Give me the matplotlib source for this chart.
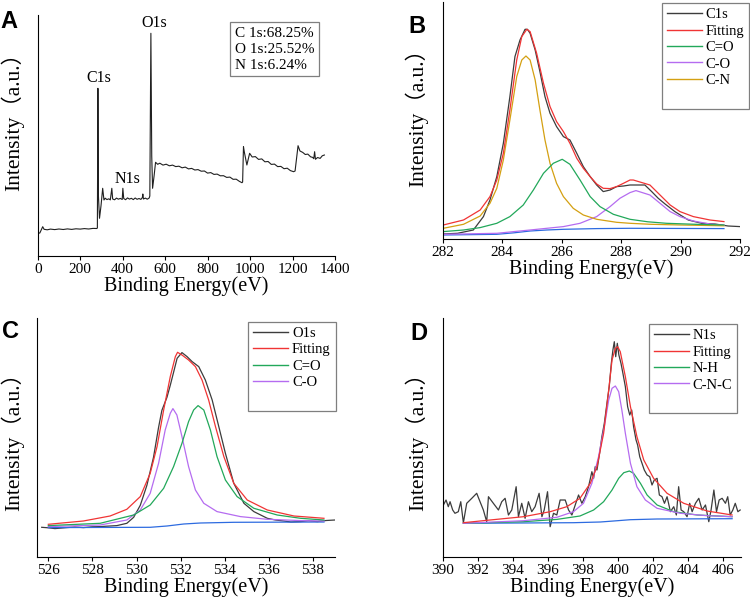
import matplotlib

matplotlib.use("Agg")
import matplotlib.pyplot as plt
from matplotlib.lines import Line2D

plt.rcParams["font.family"] = ["Liberation Serif", "DejaVu Serif"]
plt.rcParams["axes.linewidth"] = 0.8

# ---- colours ----
RAW = "#3c3c3c"
FIT = "#f03434"
GREEN = "#22a85a"
PURPLE = "#b56cf0"
ORANGE = "#d4a012"
BLUE = "#2d6be0"

# ---- A: survey spectrum ----
survey_ev = [0, 10, 23.6, 30, 45, 60, 80, 100, 120, 140,
             160, 180, 200, 220, 240, 260, 278, 281, 283.5, 286,
             291, 298, 306, 312, 318, 326, 335, 342, 349, 353,
             362, 371, 380, 389, 398, 401, 405, 414, 423, 432,
             441, 450, 459, 468, 477, 486, 493, 495, 498, 507,
             516, 525, 528, 533, 537, 541, 548, 555, 565, 575,
             590, 605, 620, 635, 650, 665, 680, 695, 710, 725,
             740, 755, 770, 785, 800, 815, 830, 845, 860, 875,
             890, 905, 920, 935, 950, 962, 965, 969, 973, 985,
             998, 1010, 1025, 1040, 1055, 1070, 1085, 1100, 1115, 1130,
             1145, 1160, 1175, 1190, 1205, 1212, 1226, 1235, 1248, 1260,
             1272, 1285, 1295, 1300, 1304, 1308, 1318, 1330, 1340, 1350]
survey_int = [22.7, 23, 29.3, 26.7, 26.2, 26.9, 26.4, 27, 26.5, 27.1,
              26.6, 27.2, 26.9, 27.4, 27.0, 27.6, 27.5, 28, 167.7, 60,
              37.7, 50, 67.7, 56, 57.8, 56.4, 57.2, 56.1, 67.7, 57,
              56.2, 57.9, 56.8, 57.6, 56.5, 67.7, 57.5, 56.3, 58.1, 56.9,
              57.7, 56.4, 58, 56.7, 57.5, 56.6, 58.5, 62, 57, 57.9,
              56.8, 58, 60, 222.7, 100, 67.7, 80, 93.7, 91.7, 92.8,
              90.9, 91.8, 90.2, 90.9, 89.4, 89.8, 88.2, 88.9, 87.1, 87.6,
              86.0, 86.4, 84.8, 85.0, 82.9, 83.4, 81.6, 81.9, 80.2, 80.3,
              78.6, 78.9, 76.7, 76.8, 74.6, 73.3, 74, 109.3, 104, 91,
              102.7, 99, 99.4, 96.6, 97.1, 94.2, 94.5, 91.6, 91.9, 89.4,
              89.6, 87.3, 87.8, 85.4, 84.3, 85, 110.3, 105, 103.6, 101.5,
              101.9, 99.2, 98.6, 97.3, 104.3, 96.7, 98.5, 97.6, 100.2, 101]
survey_peaks = ["C1s", "N1s", "O1s"]
survey_peak_pos = [(290, 170), (424, 69), (548, 225)]
survey_ratio = ["C 1s:68.25%", "O 1s:25.52%", "N 1s:6.24%"]

# ---- B: C1s ----
c1s_raw_ev = [282.0, 282.5, 283.03, 283.37, 283.59, 283.82, 284.04, 284.26, 284.43, 284.6,
              284.77, 284.85, 284.94, 285.11, 285.27, 285.44, 285.61, 285.83, 286.06, 286.28,
              286.51, 286.73, 286.96, 287.18, 287.4, 287.63, 287.85, 288.08, 288.3, 288.8,
              289.03, 289.25, 289.48, 289.81, 290.26, 290.71, 291.16, 291.6, 292.0]
c1s_raw = [5.3, 6.0, 9.3, 22.7, 39.3, 62.7, 96, 142.7, 182.7, 199.3,
           210, 210, 206, 189.3, 167.7, 142.7, 126, 112.7, 102.7, 99.3,
           86, 72.7, 62.7, 54.3, 47.7, 49.3, 52.7, 53.3, 54.3, 54.3,
           47.7, 41, 35.3, 27.7, 19.3, 16, 15.3, 13.3, 12.7]
c1s_fit_ev = [282.02, 282.7, 283.26, 283.59, 283.82, 284.04, 284.26, 284.49, 284.66, 284.83,
              284.94, 285.16, 285.39, 285.61, 285.83, 286.06, 286.28, 286.51, 286.73, 286.96,
              287.18, 287.4, 287.63, 287.85, 288.08, 288.3, 288.41, 288.97, 289.31, 289.65,
              289.98, 290.43, 290.99, 291.46]
c1s_fit = [14.3, 19.3, 29.3, 42.7, 59.3, 86, 129.3, 179.3, 202.7, 210,
           207.7, 186, 156, 132.7, 117.7, 107.7, 96, 81, 71, 62.7,
           55.3, 51, 50.7, 52.7, 56, 59.3, 59.3, 54.3, 44.3, 34.3,
           27.7, 22.7, 19.3, 17.7]
c1s_cn_ev = [282.02, 282.7, 283.26, 283.59, 283.82, 284.04, 284.26, 284.49, 284.66, 284.8,
             284.94, 285.11, 285.27, 285.44, 285.61, 285.83, 286.06, 286.39, 286.73, 287.18,
             287.85, 288.3, 289.0, 290.0, 291.46]
c1s_cn = [11, 15, 23.3, 36, 51, 79.3, 119.3, 162.7, 179.3, 183.3,
          179.3, 159.3, 129.3, 99.3, 76, 56, 42.7, 31, 24.3, 20,
          17, 16, 15, 14.3, 13.5]
c1s_co2_ev = [282.02, 282.7, 283.26, 283.82, 284.26, 284.71, 285.05, 285.39, 285.72, 286.02,
              286.28, 286.62, 286.96, 287.29, 287.74, 288.3, 288.9, 289.53, 290.5, 291.46]
c1s_co2 = [7.7, 9.3, 11.7, 16, 22.7, 34.3, 49.3, 66, 76, 80,
           75, 59.3, 42.7, 32.7, 25, 20, 17.5, 16, 15, 14.3]
c1s_co_ev = [282.02, 283.82, 284.94, 286.06, 286.62, 287.18, 287.63, 287.96, 288.3, 288.5,
             288.97, 289.31, 289.65, 289.98, 290.43, 290.99, 291.46]
c1s_co = [5, 6, 9.3, 12.7, 16, 22.7, 32.7, 41, 46.7, 48.7,
          44.3, 36, 27.7, 22.7, 18.3, 15.3, 14]
c1s_bg_ev = [282.02, 283.82, 284.4, 284.94, 285.5, 286.06, 287.18, 288.3, 291.46]
c1s_bg = [4.3, 5, 6.5, 8.3, 9.3, 10, 10.7, 11, 10.7]

# ---- C: O1s ----
o1s_raw_ev = [525.7, 526.0, 526.3, 526.83, 527.2, 527.59, 528.0, 528.35, 528.8, 529.11,
              529.56, 529.87, 530.17, 530.47, 530.77, 531.0, 531.15, 531.38, 531.53, 531.68,
              531.84, 532.06, 532.29, 532.52, 532.82, 533.12, 533.43, 533.73, 534.03, 534.41,
              534.87, 535.32, 535.93, 536.3, 536.68, 537.0, 537.44, 537.8, 538.2, 538.6, 539.0]
o1s_raw = [30, 29.5, 28.7, 29.7, 30.3, 29.7, 30.5, 30.7, 31.3, 31.7,
           34, 40, 52, 72, 100, 130, 147, 160, 172, 185,
           199, 204.7, 200.7, 195.7, 190.7, 177.3, 157.3, 130.7, 104, 74,
           54, 45.7, 39, 37.3, 36.3, 35.3, 35.7, 36.5, 35.7, 36.8, 37.3]
o1s_fit_ev = [526.0, 527.59, 528.8, 529.56, 530.17, 530.62, 530.93, 531.23, 531.53, 531.76,
              531.86, 532.06, 532.36, 532.67, 532.97, 533.27, 533.58, 533.96, 534.41, 535.02,
              535.93, 537.14, 538.5]
o1s_fit = [33, 36.3, 41.3, 48, 60.7, 84, 110.7, 147.3, 180.7, 200.7,
           205, 202.3, 197.3, 190.7, 177.3, 157.3, 130.7, 100.7, 74, 57.3,
           47.3, 41.3, 39]
o1s_co2_ev = [526.0, 528.35, 529.87, 530.62, 531.23, 531.68, 532.06, 532.36, 532.59, 532.79,
              533.05, 533.35, 533.65, 534.03, 534.56, 535.32, 536.38, 537.44, 538.5]
o1s_co2 = [31.7, 34, 42.3, 52.3, 69, 90.7, 114, 135.7, 147.3, 151.7,
           147.3, 127.3, 100.7, 77.3, 60.7, 49, 42.3, 39, 37.3]
o1s_co_ev = [526.0, 528.35, 529.56, 530.17, 530.62, 531.0, 531.3, 531.53, 531.65, 531.83,
             532.06, 532.36, 532.67, 533.05, 533.65, 534.71, 535.93, 537.44, 538.5]
o1s_co = [30.7, 32.3, 37.3, 47.3, 64, 94, 127.3, 144, 148.7, 142.3,
          120.7, 90.7, 67.3, 54, 45.7, 40.7, 38, 36.7, 36.3]
o1s_bg_ev = [526.0, 530.62, 531.38, 532.14, 532.9, 534.41, 538.5]
o1s_bg = [29.7, 30, 31.3, 33.3, 34.3, 35, 35.3]

# ---- D: N1s ----
n1s_raw_ev = [390.04, 390.19, 390.32, 390.42, 390.57, 390.70, 390.89, 391.03, 391.18, 391.37,
              391.66, 391.94, 392.13, 392.32, 392.51, 392.61, 392.89, 393.18, 393.37, 393.56,
              393.75, 393.94, 394.19, 394.32, 394.51, 394.70, 394.89, 395.08, 395.27, 395.50,
              395.66, 395.79, 395.98, 396.13, 396.32, 396.51, 396.70, 396.99, 397.18, 397.37,
              397.56, 397.75, 397.94, 398.13, 398.32, 398.51, 398.61, 398.70, 398.80, 398.95,
              399.08, 399.22, 399.37, 399.50, 399.62, 399.71, 399.79, 399.87, 399.96, 400.05,
              400.17, 400.28, 400.42, 400.55, 400.67, 400.78, 400.89, 401.03, 401.12, 401.24,
              401.37, 401.50, 401.66, 401.81, 401.94, 402.07, 402.23, 402.36, 402.51, 402.65,
              402.80, 402.99, 403.18, 403.33, 403.46, 403.60, 403.75, 403.94, 404.09, 404.23,
              404.42, 404.61, 404.80, 404.99, 405.18, 405.31, 405.47, 405.62, 405.77, 405.94,
              406.13, 406.26, 406.40, 406.55, 406.69, 406.84, 406.97]
n1s_raw = [52.3, 57.3, 50.6, 55.6, 47.3, 44.0, 45.6, 55.6, 34.6, 54.0,
           59.0, 64.0, 55.6, 47.3, 35.6, 60.6, 54.0, 47.3, 55.6, 59.0,
           42.3, 47.3, 70.6, 40.6, 54.0, 39.0, 55.6, 45.6, 50.6, 64.0,
           40.6, 47.3, 65.6, 30.6, 44.0, 42.3, 57.3, 57.3, 47.3, 42.3,
           52.3, 62.3, 54.0, 60.6, 70.6, 85.6, 79.0, 90.6, 87.3, 104.0,
           120.6, 134.0, 154.0, 170.6, 194.0, 207.3, 215.6, 200.6, 214.0, 202.3,
           194.0, 184.0, 170.6, 150.6, 142.3, 147.3, 130.6, 117.3, 112.3, 100.6,
           94.0, 87.3, 82.3, 80.6, 72.3, 77.3, 79.0, 62.3, 60.6, 54.0,
           60.6, 45.6, 50.6, 42.3, 70.6, 47.3, 45.6, 40.6, 54.0, 45.6,
           54.0, 59.0, 47.3, 52.3, 35.6, 47.3, 67.3, 45.6, 57.3, 59.0,
           54.0, 60.6, 42.3, 47.3, 54.0, 45.6, 47.3]
n1s_fit_ev = [391.18, 392.70, 394.61, 396.13, 397.08, 397.83, 398.42, 398.80, 399.18, 399.47,
              399.66, 399.85, 399.98, 400.13, 400.42, 400.71, 401.08, 401.47, 402.03, 402.80,
              403.75, 405.08, 406.51]
n1s_fit = [34.6, 37.3, 40.6, 45.6, 50.6, 59.0, 74.0, 90.6, 124, 167.3,
           197.3, 209, 210.6, 205.6, 180.6, 150.6, 120.6, 97.3, 79, 64,
           54, 46.3, 42.3]
n1s_nh_ev = [391.18, 394.61, 396.51, 397.83, 398.61, 399.18, 399.66, 400.04, 400.33, 400.65,
             400.89, 401.28, 401.66, 402.23, 403.18, 404.51, 406.51]
n1s_nh = [34, 35.6, 37.9, 41.3, 47.3, 55.6, 67.3, 79, 84.6, 86.3,
          84, 74, 62.3, 52.3, 45.6, 42.3, 40.6]
n1s_cnc_ev = [391.18, 394.61, 396.51, 397.46, 398.03, 398.51, 398.89, 399.22, 399.47, 399.66,
              399.85, 400.04, 400.22, 400.42, 400.71, 401.08, 401.56, 402.23, 403.56, 405.08,
              406.51]
n1s_cnc = [34, 36.6, 40, 45.6, 54, 74, 100.6, 130.6, 157.3, 169,
           171.3, 165.6, 147.3, 124, 94, 70.6, 57.3, 49, 44, 41.6,
           40.6]
n1s_bg_ev = [391.18, 397.46, 398.99, 399.75, 400.71, 402.23, 406.51]
n1s_bg = [34, 34.6, 35.3, 36.3, 37.6, 38.3, 38.6]

W, H = 750, 603
fig = plt.figure(figsize=(W / 100, H / 100), dpi=100)


def make_axes(left, top, right, bottom, xlim, ylim, xticks):
    ax = fig.add_axes([left / W, 1 - bottom / H, (right - left) / W, (bottom - top) / H])
    ax.set_xlim(*xlim)
    ax.set_ylim(*ylim)
    ax.set_xticks(xticks)
    ax.set_yticks([])
    for side in ("top", "right"):
        ax.spines[side].set_visible(False)
    ax.tick_params(axis="x", direction="out", length=3, width=0.8, labelsize=11, pad=2)
    ax.set_xlabel("Binding Energy(eV)", fontsize=14.5, labelpad=0)
    ax.set_ylabel("Intensity（a.u.）", fontsize=15.5,
                  family=["Liberation Serif", "Noto Sans CJK SC"])
    return ax


def add_legend(ax, labels, colors, right, top):
    handles = [Line2D([], [], color=c, lw=1.0) for c in colors]
    handles.append(Line2D([], [], color="none"))
    leg = ax.legend(handles, labels + [" "], loc="upper right",
                    bbox_to_anchor=(right / W, 1 - top / H), bbox_transform=fig.transFigure,
                    borderaxespad=0, fontsize=10.5, handlelength=2.4, handletextpad=0.25,
                    labelspacing=0.22, borderpad=0.35, fancybox=False, framealpha=1)
    leg.get_frame().set_edgecolor("#7f7f7f")
    leg.get_frame().set_linewidth(0.9)


# A
axA = make_axes(37.7, 15, 335, 256, (0, 1400), (0, 241), range(0, 1401, 200))
axA.plot(survey_ev, survey_int, color="#202020", lw=0.8)
for name, (px, py) in zip(survey_peaks, survey_peak_pos):
    axA.text(px, py, name, fontsize=11.5, ha="center", va="bottom")
axA.text(0.662, 0.952, "\n".join(survey_ratio), transform=axA.transAxes, fontsize=11,
         ha="left", va="top", linespacing=1.3,
         bbox=dict(boxstyle="square,pad=0.3", fc="white", ec="#7f7f7f", lw=0.9))
axA.yaxis.set_label_coords(-0.045, 0.577)

# B
axB = make_axes(442.7, 2, 740, 239.3, (282, 292), (0, 237.3), range(282, 293, 2))
axB.plot(c1s_raw_ev, c1s_raw, color=RAW, lw=0.9)
axB.plot(c1s_bg_ev, c1s_bg, color=BLUE, lw=0.9)
axB.plot(c1s_co_ev, c1s_co, color=PURPLE, lw=0.9)
axB.plot(c1s_cn_ev, c1s_cn, color=ORANGE, lw=0.9)
axB.plot(c1s_co2_ev, c1s_co2, color=GREEN, lw=0.9)
axB.plot(c1s_fit_ev, c1s_fit, color=FIT, lw=0.9)
add_legend(axB, ["C1s", "Fitting", "C=O", "C-O", "C-N"],
           [RAW, FIT, GREEN, PURPLE, ORANGE], 749, 3)
axB.yaxis.set_label_coords(-0.05, 0.535)

# C
axC = make_axes(37.3, 318, 335, 557.3, (525.5, 539), (0, 239.3), range(526, 539, 2))
axC.plot(o1s_raw_ev, o1s_raw, color=RAW, lw=0.9)
axC.plot(o1s_bg_ev, o1s_bg, color=BLUE, lw=0.9)
axC.plot(o1s_co_ev, o1s_co, color=PURPLE, lw=0.9)
axC.plot(o1s_co2_ev, o1s_co2, color=GREEN, lw=0.9)
axC.plot(o1s_fit_ev, o1s_fit, color=FIT, lw=0.9)
add_legend(axC, ["O1s", "Fitting", "C=O", "C-O"], [RAW, FIT, GREEN, PURPLE], 335.7, 321.7)
axC.yaxis.set_label_coords(-0.045, 0.505)

# D
axD = make_axes(442.7, 318, 740.7, 557.3, (390, 407), (0, 239.3), range(390, 407, 2))
axD.plot(n1s_raw_ev, n1s_raw, color=RAW, lw=0.9)
axD.plot(n1s_bg_ev, n1s_bg, color=BLUE, lw=0.9)
axD.plot(n1s_nh_ev, n1s_nh, color=GREEN, lw=0.9)
axD.plot(n1s_cnc_ev, n1s_cnc, color=PURPLE, lw=0.9)
axD.plot(n1s_fit_ev, n1s_fit, color=FIT, lw=0.9)
add_legend(axD, ["N1s", "Fitting", "N-H", "C-N-C"], [RAW, FIT, GREEN, PURPLE], 737.3, 324)
axD.yaxis.set_label_coords(-0.05, 0.505)

# panel letters
for letter, px, py in [("A", 0.5, 10), ("B", 408, 15), ("C", 2, 320), ("D", 410, 322)]:
    fig.text(px / W, 1 - py / H, letter, fontsize=17, fontweight="bold",
             family="Liberation Sans", ha="left", va="top")

fig.savefig("out.png", dpi=100)
